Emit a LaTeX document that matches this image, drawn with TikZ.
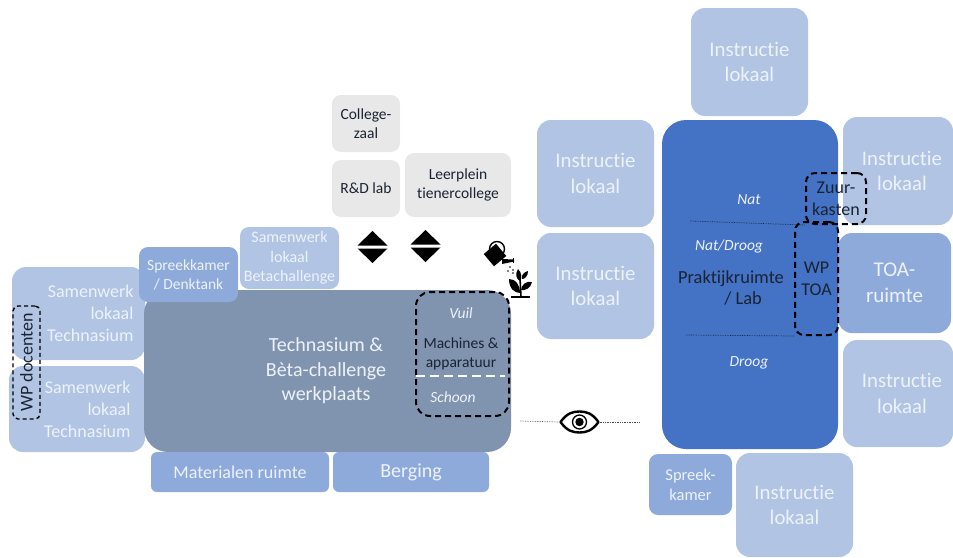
\documentclass[tikz,border=0pt]{standalone}
\usepackage{fontspec}
\setmainfont[Ligatures=NoCommon]{Carlito}
\definecolor{lb}{HTML}{B1C4E4}
\definecolor{mb}{HTML}{8EAADB}
\definecolor{db}{HTML}{4472C4}
\definecolor{sl}{HTML}{8194AF}
\definecolor{gr}{HTML}{E8E8E8}
\definecolor{ww}{HTML}{EDF2FA}
\definecolor{ink}{HTML}{1A2333}
\newcommand{\bx}[7][]{\node[#1,minimum width=#5pt-#3pt,minimum height=#6pt-#4pt] (#2) at ({(#3+#5)/2},{(#4+#6)/2}) {#7};}
\newcommand{\fs}[1]{\fontsize{#1pt}{\dimexpr #1pt*122/100\relax}\selectfont}
\newcommand{\ins}[1][0pt]{\hspace*{#1}\raisebox{-1pt}{Instructie}\\\hspace*{#1}\raisebox{-1pt}{lokaal}}
\tikzset{
 room/.style={inner sep=0pt,align=center,text=ww,rounded corners=14pt},
 light/.style={room,fill=lb},
 mid/.style={room,fill=mb},
 greybox/.style={room,fill=gr,text=ink,rounded corners=9pt},
 dashbox/.style={draw=black,line width=2pt,dash pattern=on 6pt off 4pt,rounded corners=9pt,inner sep=0pt,align=center,text=ink},
 label/.style={inner sep=0pt,align=center,text=ww,font=\fs{15.5}\itshape},
 guide/.style={densely dotted,line width=0.7pt,draw=#1},
}
\begin{document}
\begin{tikzpicture}[x=1pt,y=-1pt]
\useasboundingbox (0,0) rectangle (953,557);
% right group
\bx[light,font=\fs{20.8}]{i1}{691}{8}{808}{116}{\ins}
\bx[light,font=\fs{20.8}]{i2}{537}{120}{654}{227}{\ins}
\bx[light,font=\fs{20.8}]{i3}{537}{233}{654}{339}{\ins}
\bx[light,font=\fs{20.8}]{i4}{843}{117}{953}{225}{\ins[8pt]}
\bx[light,font=\fs{20.8}]{i5}{843}{340}{953}{447}{\ins[8pt]}
\bx[light,font=\fs{20.8}]{i6}{736}{453}{853}{557}{\ins}
\bx[mid,font=\fs{21}]{toa}{838}{233}{951}{333}{TOA-\\ruimte}
\bx[mid,font=\fs{16.5},rounded corners=9pt]{sk2}{649}{454}{732}{515}{Spreek-\\kamer}
\bx[room,fill=db,rounded corners=24pt]{lab}{662}{120}{838}{449}{}
\node[inner sep=0pt,align=center,text=ink,font=\fs{18.4}] (prak) at (731,288) {Praktijkruimte\\[-1pt]\hspace*{24pt}/ Lab};
\node[label] (nat) at (749,200) {Nat};
\node[label] (natd) at (729,247) {Nat/Droog};
\node[label] (droog) at (749,363) {Droog};
\coordinate (n1) at (690,221);
\coordinate (n2) at (686,335);
\bx[dashbox,font=\fs{18}]{wpt}{795}{222}{838}{335}{WP\\TOA}
\bx[dashbox,font=\fs{18}]{zuur}{806}{173}{866}{224}{\raisebox{-1.5pt}{Zuur-}\\\raisebox{-1.5pt}{kasten}}
\draw[guide=ink] (n1) -- (zuur.south west);
\draw[guide=ink] (n2) -- (wpt.south west);
% top centre
\bx[greybox,font=\fs{15.5}]{col}{332}{95}{400}{152}{College-\\zaal}
\bx[greybox,font=\fs{15.5}]{rd}{332}{160}{400}{217}{R\&D lab}
\bx[greybox,font=\fs{15.5}]{leer}{405}{153}{511}{217}{Leerplein\\tienercollege}
% left group
\bx[light,font=\fs{16},rounded corners=9pt]{sbeta}{240}{227}{339}{289}{Samenwerk\\lokaal\\Betachallenge}
\bx[light,font=\fs{18}]{st1}{12}{267}{145}{360}{\hspace*{10pt}\parbox{100pt}{\raggedleft Samenwerk\\lokaal\\Technasium}}
\bx[light,font=\fs{18}]{st2}{9}{366}{145}{452}{\hspace*{7pt}\parbox{100pt}{\raggedleft Samenwerk\\lokaal\\Technasium}}
\bx[room,fill=sl,rounded corners=24pt]{tech}{144}{290}{511}{452}{}
\node[inner sep=0pt,align=center,text=ww,font=\fs{20}] (techt) at (326,371) {Technasium \&\\Bèta-challenge\\werkplaats};
\bx[mid,font=\fs{15.5},rounded corners=9pt]{sk1}{139}{247}{238}{302}{Spreekkamer\\/ Denktank}
\bx[mid,font=\fs{18},rounded corners=6pt]{mat}{151}{452}{329}{492}{Materialen ruimte}
\bx[mid,font=\fs{20},rounded corners=6pt]{berg}{333}{452}{489}{492}{Berging}
% dashed in workshop
\bx[dashbox,rounded corners=14pt]{vuilb}{416}{292}{509}{416}{}
\node[label] (vuil) at (461,313) {Vuil};
\node[inner sep=0pt,align=center,text=ink,font=\fs{15.5}] (mach) at (461,354) {Machines \&\\apparatuur};
\node[label] (schoon) at (453,397) {Schoon};
\coordinate (sa) at (416,376);
\coordinate (sb) at (505,376);
\draw[white,line width=2pt,dash pattern=on 9pt off 5pt] (sa) -- (sb);
\bx[dashbox,line width=1.4pt,dash pattern=on 4pt off 3pt,rounded corners=5pt,font=\fs{18}]{wpd}{13}{306}{40}{419}{\rotatebox{90}{WP docenten}}
% double triangles
\foreach \n/\cx/\cy in {a/372.5/247,b/425.5/246}{
  \fill[black] (\cx-15,\cy-1.5) -- (\cx,\cy-16) -- (\cx+15,\cy-1.5) -- cycle;
  \fill[black] (\cx-15,\cy+1.5) -- (\cx,\cy+16) -- (\cx+15,\cy+1.5) -- cycle;
}
% watering can
\fill[black,rotate around={40:(495,255)}] (487,247) rectangle (503,263);
\draw[black,line width=1.4pt] (497,249) circle (7.5);
\fill[black] (502,259) -- (514,259.5) -- (514,261.5) -- (502,264) -- cycle;
\fill[black] (512.5,258) rectangle (514,263);
\foreach \p/\q in {510/267,513/270,508/271,513/273}{\fill[black] (\p,\q) circle (0.9);}
% plant
\fill[black] (511,296) rectangle (530,297.5);
\draw[black,line width=1.6pt] (521,297) -- (520,278);
\fill[black] (520,293) .. controls (515,293) and (509,289) .. (509,279) .. controls (516,279) and (520,285) .. (520,293) -- cycle;
\fill[black] (521,290) .. controls (525,291) and (531,288) .. (532,282) .. controls (526,281) and (522,284) .. (521,290) -- cycle;
\fill[black] (520,281) .. controls (516,279) and (515,274) .. (518,269) .. controls (522,273) and (522,278) .. (520,281) -- cycle;
\fill[black] (522,279) .. controls (525,279) and (528,276) .. (528,271) .. controls (524,272) and (521,275) .. (522,279) -- cycle;
% eye
\node[inner sep=0pt,minimum width=40pt,minimum height=24pt] (eye) at (579.5,422) {};
\draw[black,line width=2.4pt,line join=round] (560.5,422) .. controls (567,413) and (573,411.5) .. (579.5,411.5) .. controls (586,411.5) and (592,413) .. (598.5,422) .. controls (592,431) and (586,432.5) .. (579.5,432.5) .. controls (573,432.5) and (567,431) .. (560.5,422) -- cycle;
\draw[black,line width=1.3pt] (579.5,422) circle (7);
\fill[black] (579.5,422) circle (4.2);
\coordinate (el) at (520,421);
\coordinate (er) at (640,422);
\draw[guide=black!70] (el) -- (eye.west);
\draw[guide=black!70] (eye.east) -- (er);
\end{tikzpicture}
\end{document}
